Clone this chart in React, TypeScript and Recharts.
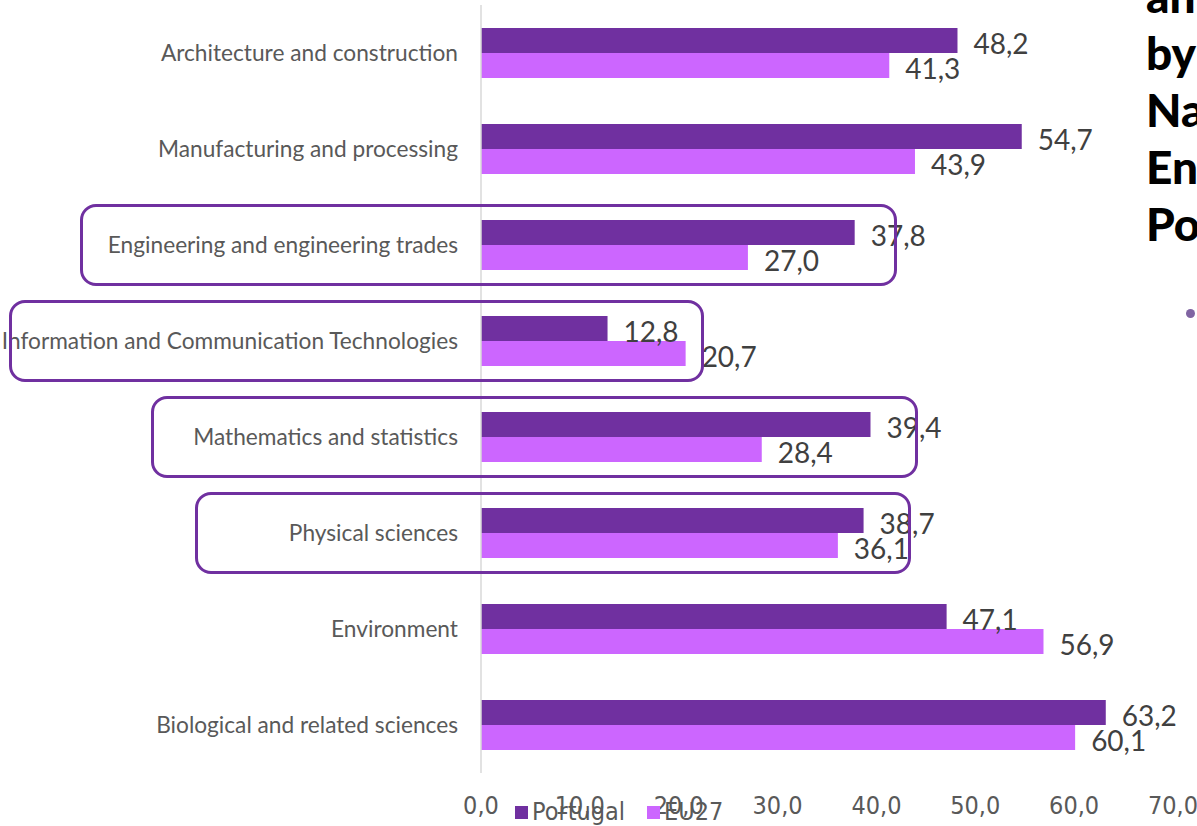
import { BarChart, Bar, XAxis, YAxis, LabelList } from "recharts";

const categories = [
  "Architecture and construction",
  "Manufacturing and processing",
  "Engineering and engineering trades",
  "Information and Communication Technologies",
  "Mathematics and statistics",
  "Physical sciences",
  "Environment",
  "Biological and related sciences",
];
const portugal = [48.2, 54.7, 37.8, 12.8, 39.4, 38.7, 47.1, 63.2];
const eu27 = [41.3, 43.9, 27.0, 20.7, 28.4, 36.1, 56.9, 60.1];
const xTicks = [0, 10, 20, 30, 40, 50, 60, 70];
const titleLines = ["an", "by", "Na", "En", "Po"];

// hand-drawn outlines round some categories (left/right in px)
const highlights = [
  { category: "Engineering and engineering trades", left: 80, right: 897 },
  { category: "Information and Communication Technologies", left: 9, right: 704 },
  { category: "Mathematics and statistics", left: 151, right: 918 },
  { category: "Physical sciences", left: 195, right: 911 },
];

const series = [
  { key: "portugal", name: "Portugal", color: "#7030A0" },
  { key: "eu27", name: "EU27", color: "#CC66FF" },
];

const data = categories.map((c, i) => ({ category: c, portugal: portugal[i], eu27: eu27[i] }));

const W = 1197;
const H = 826;
const PLOT_TOP = 5;
const PLOT_BOTTOM = 773;
const BAND = (PLOT_BOTTOM - PLOT_TOP) / categories.length;

const fmt = (v: number) => v.toFixed(1).replace(".", ",");
const narrow = "'Liberation Sans Narrow', 'DejaVu Sans Condensed', sans-serif";

const ValueLabel = (props: any) => {
  const { x, y, width, height, value } = props;
  return (
    <text
      x={x + width + 16}
      y={y + height / 2 + 2}
      dominantBaseline="central"
      fontFamily="Lato, sans-serif"
      fontSize={28}
      fill="#404040"
    >
      {fmt(value)}
    </text>
  );
};

export default function App() {
  return (
    <div
      style={{
        position: "absolute",
        left: 0,
        top: 0,
        width: W,
        height: H,
        overflow: "hidden",
        background: "#fff",
      }}
    >
      <BarChart
        width={W}
        height={H}
        data={data}
        layout="vertical"
        margin={{ top: PLOT_TOP, right: 24, bottom: 23, left: 0 }}
        barGap={0}
        barSize={25}
      >
        <XAxis
          type="number"
          domain={[0, 70]}
          ticks={xTicks}
          axisLine={false}
          tickLine={false}
          tickSize={0}
          tickMargin={23}
          height={30}
          tickFormatter={fmt}
          tick={{ fontSize: 25, fill: "#595959", fontFamily: narrow }}
          interval={0}
        />
        <YAxis
          type="category"
          dataKey="category"
          width={481}
          axisLine={{ stroke: "#D9D9D9", strokeWidth: 1.5 }}
          tickLine={false}
          tickSize={0}
          tickMargin={23}
          interval={0}
          tick={{ fontSize: 22.7, fill: "#595959", fontFamily: "Lato, sans-serif" }}
        />
        {series.map((s) => (
          <Bar key={s.key} dataKey={s.key} name={s.name} fill={s.color} isAnimationActive={false}>
            <LabelList dataKey={s.key} content={ValueLabel} />
          </Bar>
        ))}
      </BarChart>

      {highlights.map((h) => {
        const i = categories.indexOf(h.category);
        const cy = PLOT_TOP + (i + 0.5) * BAND;
        return (
          <div
            key={h.category}
            style={{
              position: "absolute",
              left: h.left,
              top: cy - 41,
              width: h.right - h.left,
              height: 82,
              border: "3.5px solid #7030A0",
              borderRadius: 16,
              boxSizing: "border-box",
            }}
          />
        );
      })}

      {/* legend */}
      <div
        style={{
          position: "absolute",
          left: 515,
          top: 798,
          display: "flex",
          alignItems: "center",
          fontFamily: narrow,
          fontSize: 25,
          color: "#595959",
          lineHeight: "28px",
        }}
      >
        {series.map((s) => (
          <div key={s.key} style={{ display: "flex", alignItems: "center", marginRight: 22 }}>
            <span style={{ display: "inline-block", width: 13, height: 13, background: s.color, marginRight: 4 }} />
            {s.name}
          </div>
        ))}
      </div>

      {/* cut-off slide title */}
      <div
        style={{
          position: "absolute",
          left: 1146,
          top: -33,
          fontFamily: "Lato, sans-serif",
          fontWeight: 900,
          fontSize: 46,
          lineHeight: "57px",
          color: "#000",
          whiteSpace: "nowrap",
        }}
      >
        {titleLines.map((t) => (
          <div key={t}>{t}</div>
        ))}
      </div>
      <div
        style={{
          position: "absolute",
          left: 1186,
          top: 309,
          width: 9,
          height: 9,
          borderRadius: "50%",
          background: "#8064A2",
        }}
      />
    </div>
  );
}
